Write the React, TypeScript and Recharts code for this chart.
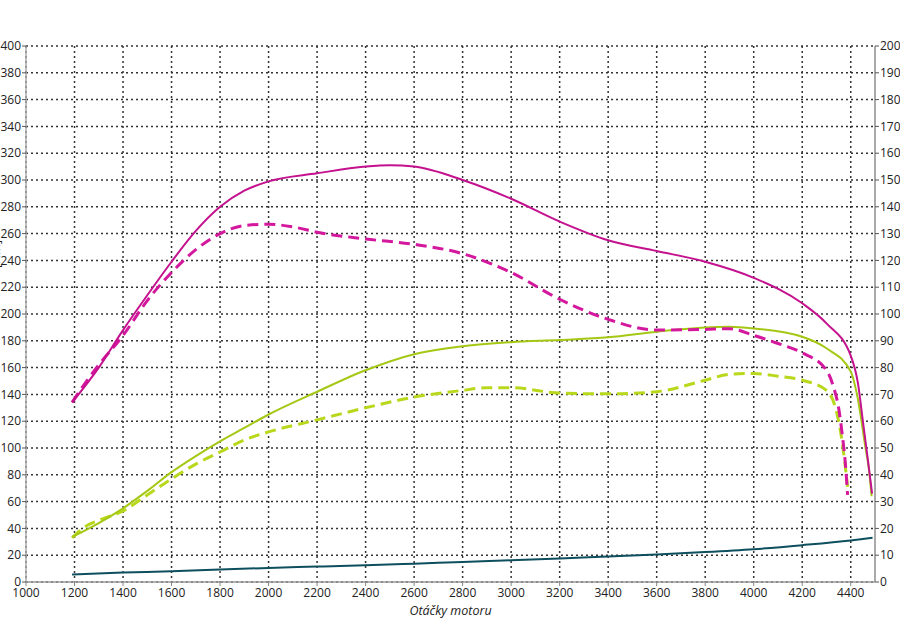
import { LineChart, Line, XAxis, YAxis, CartesianGrid } from "recharts";

// rpm / torque [Nm], left axis
const tunedTorque = [
  [1190, 134], [1300, 160], [1400, 188], [1500, 214], [1600, 239], [1700, 262], [1800, 280],
  [1900, 292], [2000, 299], [2200, 305], [2400, 310], [2500, 311], [2600, 310], [2800, 300],
  [3000, 286], [3200, 269], [3400, 255], [3600, 247], [3800, 239], [4000, 227], [4200, 208],
  [4300, 193], [4400, 169], [4430, 148], [4450, 120], [4470, 92], [4488, 66],
];

const stockTorque = [
  [1190, 134], [1250, 150], [1300, 162], [1400, 184], [1500, 210], [1600, 231], [1700, 248],
  [1800, 260], [1900, 266], [2000, 267], [2100, 265], [2200, 261], [2400, 256], [2600, 252],
  [2800, 245], [3000, 231], [3200, 211], [3400, 196], [3600, 188], [3800, 188.5], [3900, 189],
  [4000, 184], [4100, 178], [4200, 171], [4300, 158], [4330, 145], [4350, 130], [4365, 110],
  [4378, 88], [4387, 65],
];

// rpm / power [kW], right axis
const tunedPower = [
  [1190, 16.8], [1300, 22], [1400, 27.5], [1500, 34], [1600, 41], [1700, 47], [1800, 52.5],
  [1900, 57.5], [2000, 62.5], [2200, 71], [2400, 79], [2600, 85], [2800, 88], [3000, 89.5],
  [3200, 90.3], [3400, 91.3], [3600, 93.4], [3800, 95], [3900, 95.2], [4000, 94.6],
  [4200, 91.5], [4300, 87.2], [4400, 78.5], [4430, 68], [4460, 50.5], [4475, 42], [4486, 32],
];

const stockPower = [
  [1190, 16.5], [1250, 21], [1300, 23], [1400, 26.5], [1500, 32.5], [1600, 38.5], [1700, 44],
  [1800, 48.5], [1900, 53], [2000, 56], [2200, 60.5], [2400, 65], [2600, 69], [2800, 71.5],
  [2900, 72.5], [3000, 72.5], [3200, 70.5], [3400, 70.2], [3600, 71], [3800, 75.3],
  [3900, 77.5], [4000, 77.8], [4100, 76.8], [4200, 75.3], [4300, 71.5], [4340, 64],
  [4360, 55], [4375, 45], [4387, 35.5],
];

// rpm / lower curve, left axis
const lowCurve = [
  [1190, 5.5], [1400, 7], [1600, 8], [1800, 9.3], [2000, 10.5], [2200, 11.5], [2400, 12.5],
  [2600, 13.7], [2800, 15], [3000, 16.2], [3200, 17.5], [3400, 19], [3600, 20.5], [3800, 22.3],
  [4000, 24.5], [4200, 27.5], [4400, 31], [4490, 33],
];

const rpmTicks = [1000, 1200, 1400, 1600, 1800, 2000, 2200, 2400, 2600, 2800, 3000, 3200, 3400, 3600, 3800, 4000, 4200, 4400];
const nmTicks = Array.from({ length: 21 }, (_, i) => i * 20);
const kwTicks = Array.from({ length: 21 }, (_, i) => i * 10);

const toRows = (pts: number[][]) => pts.map(([x, y]) => ({ x, y }));

const tick = { fontSize: 12, fill: "#222", fontFamily: "Open Sans" };

export default function App() {
  return (
    <div style={{ width: 900, height: 637, background: "#fff", position: "relative" }}>
      <style>{"body{margin:0}"}</style>
      <LineChart width={900} height={637} margin={{ top: 46, right: 0, bottom: 0, left: 0 }}>
        <CartesianGrid
          yAxisId="nm"
          stroke="#333"
          strokeDasharray="2 3"
          strokeWidth={1.5}
        />
        <XAxis
          type="number"
          dataKey="x"
          domain={[1000, 4500]}
          ticks={rpmTicks}
          interval={0}
          allowDataOverflow
          height={55}
          tick={tick}
          tickSize={4}
          tickLine={{ stroke: "#888" }}
          axisLine={{ stroke: "#999", strokeWidth: 1.5 }}
          label={{
            value: "Otáčky motoru",
            position: "insideTop",
            offset: 24,
            style: { fontSize: 12.5, fontStyle: "italic", fill: "#222", fontFamily: "Open Sans" },
          }}
        />
        <YAxis
          yAxisId="nm"
          orientation="left"
          width={26}
          domain={[0, 400]}
          ticks={nmTicks}
          interval={0}
          tick={tick}
          tickSize={4}
          tickMargin={1}
          tickLine={{ stroke: "#555" }}
          axisLine={{ stroke: "#aaa", strokeWidth: 1.5 }}
          label={{
            value: "[Nm]",
            angle: -90,
            position: "insideLeft",
            offset: -4,
            dy: -46,
            style: { fontSize: 12, fill: "#222", fontFamily: "Open Sans" },
          }}
        />
        <YAxis
          yAxisId="kw"
          orientation="right"
          width={25}
          domain={[0, 200]}
          ticks={kwTicks}
          interval={0}
          tick={tick}
          tickSize={4}
          tickMargin={1}
          tickLine={{ stroke: "#555" }}
          axisLine={{ stroke: "#aaa", strokeWidth: 2 }}
        />
        <Line yAxisId="nm" data={toRows(lowCurve)} dataKey="y" type="monotone" stroke="#0d4f5f" strokeWidth={2} dot={false} isAnimationActive={false} />
        <Line yAxisId="kw" data={toRows(stockPower)} dataKey="y" type="monotone" stroke="#b8d81c" strokeWidth={3} strokeDasharray="11 6" dot={false} isAnimationActive={false} />
        <Line yAxisId="kw" data={toRows(tunedPower)} dataKey="y" type="monotone" stroke="#a4c814" strokeWidth={2} dot={false} isAnimationActive={false} />
        <Line yAxisId="nm" data={toRows(stockTorque)} dataKey="y" type="monotone" stroke="#d4189e" strokeWidth={3} strokeDasharray="11 6" dot={false} isAnimationActive={false} />
        <Line yAxisId="nm" data={toRows(tunedTorque)} dataKey="y" type="monotone" stroke="#c4128f" strokeWidth={2} dot={false} isAnimationActive={false} />
      </LineChart>
    </div>
  );
}
